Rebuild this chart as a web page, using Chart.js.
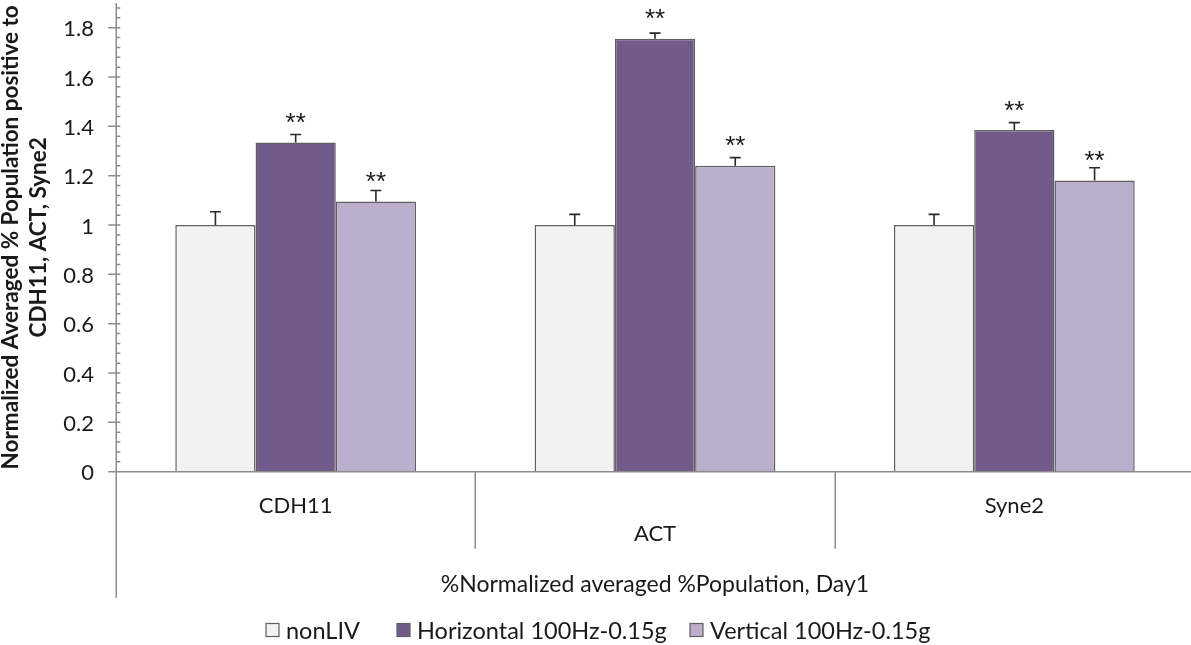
<!DOCTYPE html>
<html>
<head>
<meta charset="utf-8">
<script src="https://cdn.jsdelivr.net/npm/chart.js@4/dist/chart.umd.min.js"></script>
<style>
  html, body { margin: 0; padding: 0; background: #fff; overflow: hidden; }
  canvas { display: block; }
</style>
</head>
<body>
<canvas id="chart" width="1194" height="645"></canvas>
<script>
// Categories and series
const categories = ['CDH11', 'ACT', 'Syne2'];
const seriesNames = ['nonLIV', 'Horizontal 100Hz-0.15g', 'Vertical 100Hz-0.15g'];

// Normalized averaged % population (mean values)
const nonLIV = [1.0, 1.0, 1.0];
const horizontal = [1.335, 1.755, 1.385];
const vertical = [1.095, 1.24, 1.18];

// Standard error (upper bars)
const nonLIVErr = [0.054, 0.043, 0.043];
const horizontalErr = [0.032, 0.023, 0.030];
const verticalErr = [0.045, 0.033, 0.052];

// Significance markers
const nonLIVSig = ['', '', ''];
const horizontalSig = ['**', '**', '**'];
const verticalSig = ['**', '**', '**'];

// Value axis
const yTicks = [0, 0.2, 0.4, 0.6, 0.8, 1, 1.2, 1.4, 1.6, 1.8];
const yTickLabels = ['0', '0.2', '0.4', '0.6', '0.8', '1', '1.2', '1.4', '1.6', '1.8'];
const yMax = 1.9;
const yMinorStep = 0.04;

const yTitle = ['Normalized Averaged % Population positive to', 'CDH11, ACT, Syne2'];
const xTitle = '%Normalized averaged %Population, Day1';

const FONT = "Lato, 'Open Sans', sans-serif";
const TEXT = '#1a1a1a';
const AXIS = '#8c8c8c';
const EDGE = '#606060';
const fills = ['#f2f2f2', '#725b8a', '#bcafcd'];

const decor = {
  id: 'decor',
  afterDatasetsDraw(chart) {
    const { ctx, chartArea: a, scales: { x, y } } = chart;
    ctx.save();

    // axis lines, major/minor ticks and category separators
    ctx.strokeStyle = AXIS;
    ctx.lineWidth = 1.5;
    const ax = Math.round(a.left) + 0.25;
    ctx.beginPath();
    ctx.moveTo(ax, a.top);
    ctx.lineTo(ax, a.bottom + 126);
    ctx.moveTo(ax - 8, a.bottom);
    ctx.lineTo(a.right, a.bottom);
    const nMinor = Math.floor(yMax / yMinorStep + 1e-6);
    for (let k = 1; k <= nMinor; k++) {
      const v = k * yMinorStep;
      const py = y.getPixelForValue(v);
      const major = yTicks.some(t => Math.abs(t - v) < 1e-6);
      ctx.moveTo(major ? ax - 8 : ax, py);
      ctx.lineTo(ax + 4, py);
    }
    for (let i = 1; i < categories.length; i++) {
      const sx = Math.round((x.getPixelForValue(i - 1) + x.getPixelForValue(i)) / 2) + 0.25;
      ctx.moveTo(sx, a.bottom);
      ctx.lineTo(sx, a.bottom + 77);
    }
    ctx.stroke();

    // value-axis labels
    ctx.font = `22px ${FONT}`;
    ctx.fillStyle = TEXT;
    ctx.textAlign = 'right';
    ctx.textBaseline = 'middle';
    y.ticks.forEach((t, i) => {
      ctx.fillText(yTickLabels[i], a.left - 22, y.getPixelForValue(t.value) + 1.5);
    });

    // error bars and significance markers
    ctx.font = `26px 'Liberation Sans', Arial, sans-serif`;
    ctx.textAlign = 'center';
    ctx.textBaseline = 'alphabetic';
    chart.data.datasets.forEach((ds, di) => {
      const meta = chart.getDatasetMeta(di);
      meta.data.forEach((bar, i) => {
        const base = y.getPixelForValue(ds.data[i]);
        const top = y.getPixelForValue(ds.data[i] + ds.errors[i]);
        ctx.strokeStyle = '#2a2a2a';
        ctx.lineWidth = 1.6;
        ctx.beginPath();
        ctx.moveTo(bar.x, base);
        ctx.lineTo(bar.x, top);
        ctx.moveTo(bar.x - 5.5, top);
        ctx.lineTo(bar.x + 5.5, top);
        ctx.stroke();
        if (ds.marks[i]) ctx.fillText(ds.marks[i], bar.x, base - 11.5);
      });
    });
    ctx.restore();
  },
  afterDraw(chart) {
    // legend row
    const { ctx } = chart;
    ctx.save();
    ctx.font = `23.5px ${FONT}`;
    ctx.textBaseline = 'middle';
    ctx.textAlign = 'left';
    const box = 13, gapText = 7, cy = 630;
    const itemX = [266, 397, 690];
    chart.data.datasets.forEach((ds, i) => {
      const lx = itemX[i];
      ctx.fillStyle = ds.backgroundColor;
      ctx.fillRect(lx, cy - box / 2, box, box);
      ctx.strokeStyle = EDGE;
      ctx.lineWidth = 1.2;
      ctx.strokeRect(lx, cy - box / 2, box, box);
      ctx.fillStyle = TEXT;
      ctx.fillText(ds.label, lx + box + gapText, cy + 1.5);
    });
    ctx.restore();
  }
};

const series = [
  { label: seriesNames[0], data: nonLIV, errors: nonLIVErr, marks: nonLIVSig },
  { label: seriesNames[1], data: horizontal, errors: horizontalErr, marks: horizontalSig },
  { label: seriesNames[2], data: vertical, errors: verticalErr, marks: verticalSig }
];

new Chart(document.getElementById('chart'), {
  type: 'bar',
  data: {
    labels: categories,
    datasets: series.map((s, i) => ({
      ...s,
      backgroundColor: fills[i],
      borderColor: EDGE,
      borderWidth: 1.5,
      categoryPercentage: 0.67,
      barPercentage: 1.0
    }))
  },
  options: {
    responsive: false,
    animation: false,
    events: [],
    layout: { padding: { top: 3, left: 0, right: 0, bottom: 0 } },
    plugins: { legend: { display: false }, tooltip: { enabled: false } },
    scales: {
      x: {
        afterFit(s) { s.height = 173.3; },
        grid: { display: false, drawTicks: false },
        border: { display: false },
        ticks: {
          autoSkip: false,
          maxRotation: 0,
          padding: 20,
          color: TEXT,
          font: { family: FONT, size: 22, lineHeight: 28 / 22 },
          callback(v, i) {
            const l = this.getLabelForValue(v);
            return i % 2 ? ['', l] : l;
          }
        },
        title: {
          display: true,
          text: xTitle,
          color: TEXT,
          font: { family: FONT, size: 23, lineHeight: 1.2 },
          padding: { top: 0, bottom: 47 }
        }
      },
      y: {
        min: 0,
        max: yMax,
        afterFit(s) { s.width = 116; },
        afterBuildTicks(s) { s.ticks = yTicks.map(v => ({ value: v })); },
        grid: { display: false, drawTicks: false },
        border: { display: false },
        ticks: { display: false },
        title: {
          display: true,
          text: yTitle,
          color: TEXT,
          font: { family: FONT, size: 22.5, weight: 'bold', lineHeight: 28 / 22.5 },
          padding: { top: -3, bottom: 0 }
        }
      }
    }
  },
  plugins: [decor]
});
</script>
</body>
</html>
